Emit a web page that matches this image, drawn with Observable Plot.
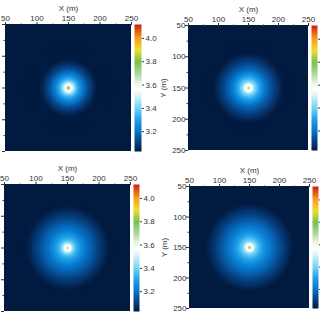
<!DOCTYPE html>
<html><head><meta charset="utf-8">
<script src="https://cdn.jsdelivr.net/npm/d3@7"></script>
<script src="https://cdn.jsdelivr.net/npm/@observablehq/plot@0.6"></script>
<style>
html,body{margin:0;padding:0;background:#fff;overflow:hidden;width:320px;height:320px}
#root{position:relative;width:320px;height:320px;overflow:hidden}
#root svg{position:absolute;display:block;max-width:none;background:transparent;font-family:"Liberation Sans",sans-serif}
</style></head><body><div id="root"></div>
<script>
const majorTicks=[50,100,150,200,250];
const minorTicks=[75,125,175,225];
const barTicks=[3.2,3.4,3.6,3.8,4.0];
const barDomain=[3.03,4.12];
const colorStops=[3.03,3.12,3.2,3.3,3.4,3.5,3.56,3.62,3.7,3.8,3.9,4.0,4.12];
const colorRange=["#011a40","#07468a","#0674c8","#1fa0ea","#70d3f5","#cff0fa","#ffffff","#eef4e2","#a8d8a0","#78c050","#e8e030","#f8a020","#cc1f10"];
const backgroundValue=3.03;
const centre=[150];
const radii=[1,2,3,4,5,6,7,8,9,10,12,14,16,18,20,22,24,26,28,30,33,36,39,42,45,48,51,54,57,60,63,66,69,72,75];
const valuesA=[4.02,3.88,3.7,3.62,3.58,3.55,3.52,3.5,3.47,3.44,3.4,3.36,3.32,3.29,3.26,3.23,3.21,3.19,3.17,3.15,3.125,3.105,3.08,3.06,3.04,3.03,3.03,3.03,3.03,3.03,3.03,3.03,3.03,3.03,3.03];
const valuesB=[3.76,3.68,3.62,3.58,3.56,3.54,3.52,3.5,3.47,3.44,3.41,3.38,3.35,3.32,3.3,3.275,3.25,3.23,3.21,3.195,3.175,3.155,3.135,3.12,3.1,3.085,3.07,3.055,3.04,3.03,3.03,3.03,3.03,3.03,3.03];
const valuesC=[3.72,3.65,3.6,3.57,3.55,3.53,3.5,3.47,3.44,3.42,3.38,3.35,3.33,3.31,3.29,3.27,3.255,3.24,3.225,3.21,3.195,3.18,3.165,3.15,3.135,3.12,3.105,3.09,3.08,3.065,3.05,3.04,3.03,3.03,3.03];
const valuesD=[3.86,3.74,3.65,3.6,3.57,3.55,3.53,3.5,3.47,3.44,3.41,3.38,3.36,3.34,3.32,3.3,3.285,3.27,3.255,3.24,3.225,3.21,3.195,3.18,3.165,3.15,3.135,3.12,3.105,3.09,3.08,3.065,3.05,3.04,3.03];

const color={type:"linear",domain:colorStops,range:colorRange,clamp:true};
const panels=[
 {values:valuesA,ox:0,oy:0,l:5,r:131,t:24,b:151,bl:134,br:141,showY:false,showBar:true},
 {values:valuesB,ox:160,oy:0,l:188,r:308,t:25,b:150,bl:311,br:317,showY:true,showBar:false},
 {values:valuesC,ox:0,oy:160,l:4,r:130,t:184,b:311,bl:133,br:139,showY:false,showBar:true},
 {values:valuesD,ox:160,oy:160,l:189,r:309,t:186,b:308,bl:312,br:318,showY:true,showBar:false}
];
const root=document.getElementById("root");
function place(svg,x,y){svg.style.left=x+"px";svg.style.top=y+"px";root.appendChild(svg);}
for(const p of panels){
 const w=p.r-p.l,h=p.b-p.t;
 const rings=radii.map((r,i)=>({r,v:p.values[i],x:centre[0],y:centre[0]}));
 const axisStyle={stroke:"#333"};
 const svg=Plot.plot({
  width:p.r-p.ox+11,height:p.b-p.oy+6,
  marginLeft:p.l-p.ox,marginRight:11,marginTop:p.t-p.oy,marginBottom:6,
  style:{fontSize:"8px",fontFamily:"Liberation Sans",background:"transparent"},
  x:{domain:[50,250]},y:{domain:[50,250],reverse:true},
  r:{type:"linear",domain:[0,100],range:[0,100*(w+h)/2/200]},
  color,
  marks:[
   Plot.rect([{v:backgroundValue}],{x1:()=>50,x2:()=>250,y1:()=>50,y2:()=>250,fill:"v"}),
   Plot.dot(rings,{x:"x",y:"y",r:"r",fill:"v",clip:true}),
   Plot.axisX({anchor:"top",ticks:majorTicks,tickSize:3,tickPadding:1,label:"X (m)",labelAnchor:"center",labelArrow:"none",labelOffset:19.5,color:"#333"}),
   Plot.axisX({anchor:"top",ticks:minorTicks,tickSize:1.5,fill:"none",...axisStyle}),
   p.showY
     ?Plot.axisY({anchor:"left",ticks:majorTicks,tickSize:3,tickPadding:0,label:"Y (m)",labelAnchor:"center",labelArrow:"none",labelOffset:28,color:"#333"})
     :Plot.axisY({anchor:"left",ticks:majorTicks,tickSize:3,fill:"none",...axisStyle}),
   Plot.axisY({anchor:"left",ticks:minorTicks,tickSize:1.5,fill:"none",...axisStyle})
  ]
 });
 place(svg,p.ox,p.oy);
 const barW=p.br-p.bl;
 const bar=Plot.plot({
  width:p.showBar?barW+20:barW+3,height:h+2,
  marginLeft:0,marginRight:p.showBar?20:3,marginTop:1,marginBottom:1,
  style:{fontSize:"8px",fontFamily:"Liberation Sans",background:"transparent"},
  x:{domain:[0,1],axis:null},y:{domain:barDomain,axis:null},
  color,
  marks:[
   Plot.raster({x1:0,x2:1,y1:barDomain[0],y2:barDomain[1],width:2,height:h,fill:(x,y)=>y}),
   p.showBar
     ?Plot.axisY({anchor:"right",ticks:barTicks,tickSize:2,tickPadding:2,tickFormat:".1f",label:null,color:"#333"})
     :Plot.axisY({anchor:"right",ticks:barTicks,tickSize:2,fill:"none",...axisStyle})
  ]
 });
 place(bar,p.bl,p.t-1);
}
</script></body></html>
